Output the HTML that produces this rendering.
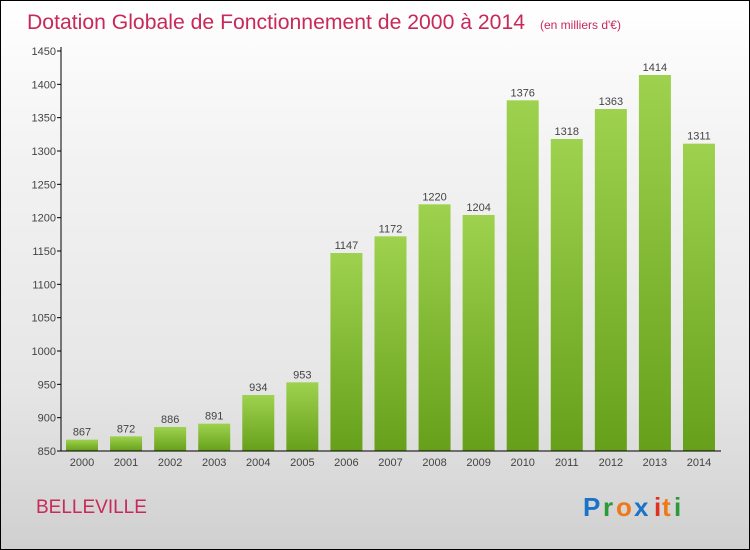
<!DOCTYPE html>
<html><head><meta charset="utf-8"><style>
body{margin:0;width:750px;height:550px;overflow:hidden;font-family:"Liberation Sans",sans-serif}
#c{position:absolute;left:0;top:0;width:748px;height:548px;border:1px solid #000;background:linear-gradient(#ffffff,#f2f2f2 30%,#e6e6e6 70%,#d0d0d0);}
</style></head><body>
<div id="c">
<svg width="750" height="550" style="position:absolute;left:-1px;top:-1px">
<defs><linearGradient id="g" x1="0" y1="0" x2="0" y2="1"><stop offset="0" stop-color="#9ed24e"/><stop offset="1" stop-color="#66a01a"/></linearGradient></defs>
<text x="27" y="29" font-size="21" fill="#c8285a" textLength="498" lengthAdjust="spacingAndGlyphs">Dotation Globale de Fonctionnement de 2000 à 2014</text>
<text x="540" y="29" font-size="12" fill="#c8285a">(en milliers d'€)</text>
<g id="yax"></g><g id="bars"></g>
<line x1="61" y1="47" x2="61" y2="451" stroke="#000"/>
<line x1="61" y1="451" x2="721" y2="451" stroke="#000"/>
<text x="36" y="513" font-size="19" fill="#c8285a">BELLEVILLE</text>
<g font-size="26" font-weight="bold">
<text x="583" y="516" fill="#1a73c8">P</text><text x="603" y="516" fill="#2a9a3a">r</text><text x="616" y="516" fill="#f07818">o</text><text x="634" y="516" fill="#1a73c8">x</text><text x="654" y="516" fill="#e03020">i</text><text x="662" y="516" fill="#f07818">t</text><text x="674" y="516" fill="#2a9a3a">i</text></g>
</svg></div>
<script>
const years=["2000","2001","2002","2003","2004","2005","2006","2007","2008","2009","2010","2011","2012","2013","2014"];
const values=[867,872,886,891,934,953,1147,1172,1220,1204,1376,1318,1363,1414,1311];
const ticks=[850,900,950,1000,1050,1100,1150,1200,1250,1300,1350,1400,1450];
const NS="http://www.w3.org/2000/svg";
const y=v=>451-(v-850)*400/600;
const x=i=>82+i*44.07;
const ya=document.getElementById('yax'),bg=document.getElementById('bars');
function mk(t,a,p){const e=document.createElementNS(NS,t);for(const k in a)e.setAttribute(k,a[k]);p.appendChild(e);return e;}
ticks.forEach(t=>{
 const l=mk('line',{x1:57,x2:61,y1:y(t),y2:y(t),stroke:'#000'},ya);
 
 
 const tx=mk('text',{x:56,y:y(t)+4,'font-size':11,'text-anchor':'end',fill:'#444'},ya);tx.textContent=t;
 
 
});
years.forEach((yr,i)=>{
 const v=values[i];
 const r=mk('rect',{x:x(i)-16,y:y(v),width:32,height:451-y(v),fill:'url(#g)'},bg);
 
 
 const vl=mk('text',{x:x(i),y:y(v)-4,'font-size':11,'text-anchor':'middle',fill:'#444'},bg);vl.textContent=v;
 
 
 const xl=mk('text',{x:x(i),y:466,'font-size':11,'text-anchor':'middle',fill:'#444'},bg);xl.textContent=yr;
 
 
});
</script>
</body></html>
